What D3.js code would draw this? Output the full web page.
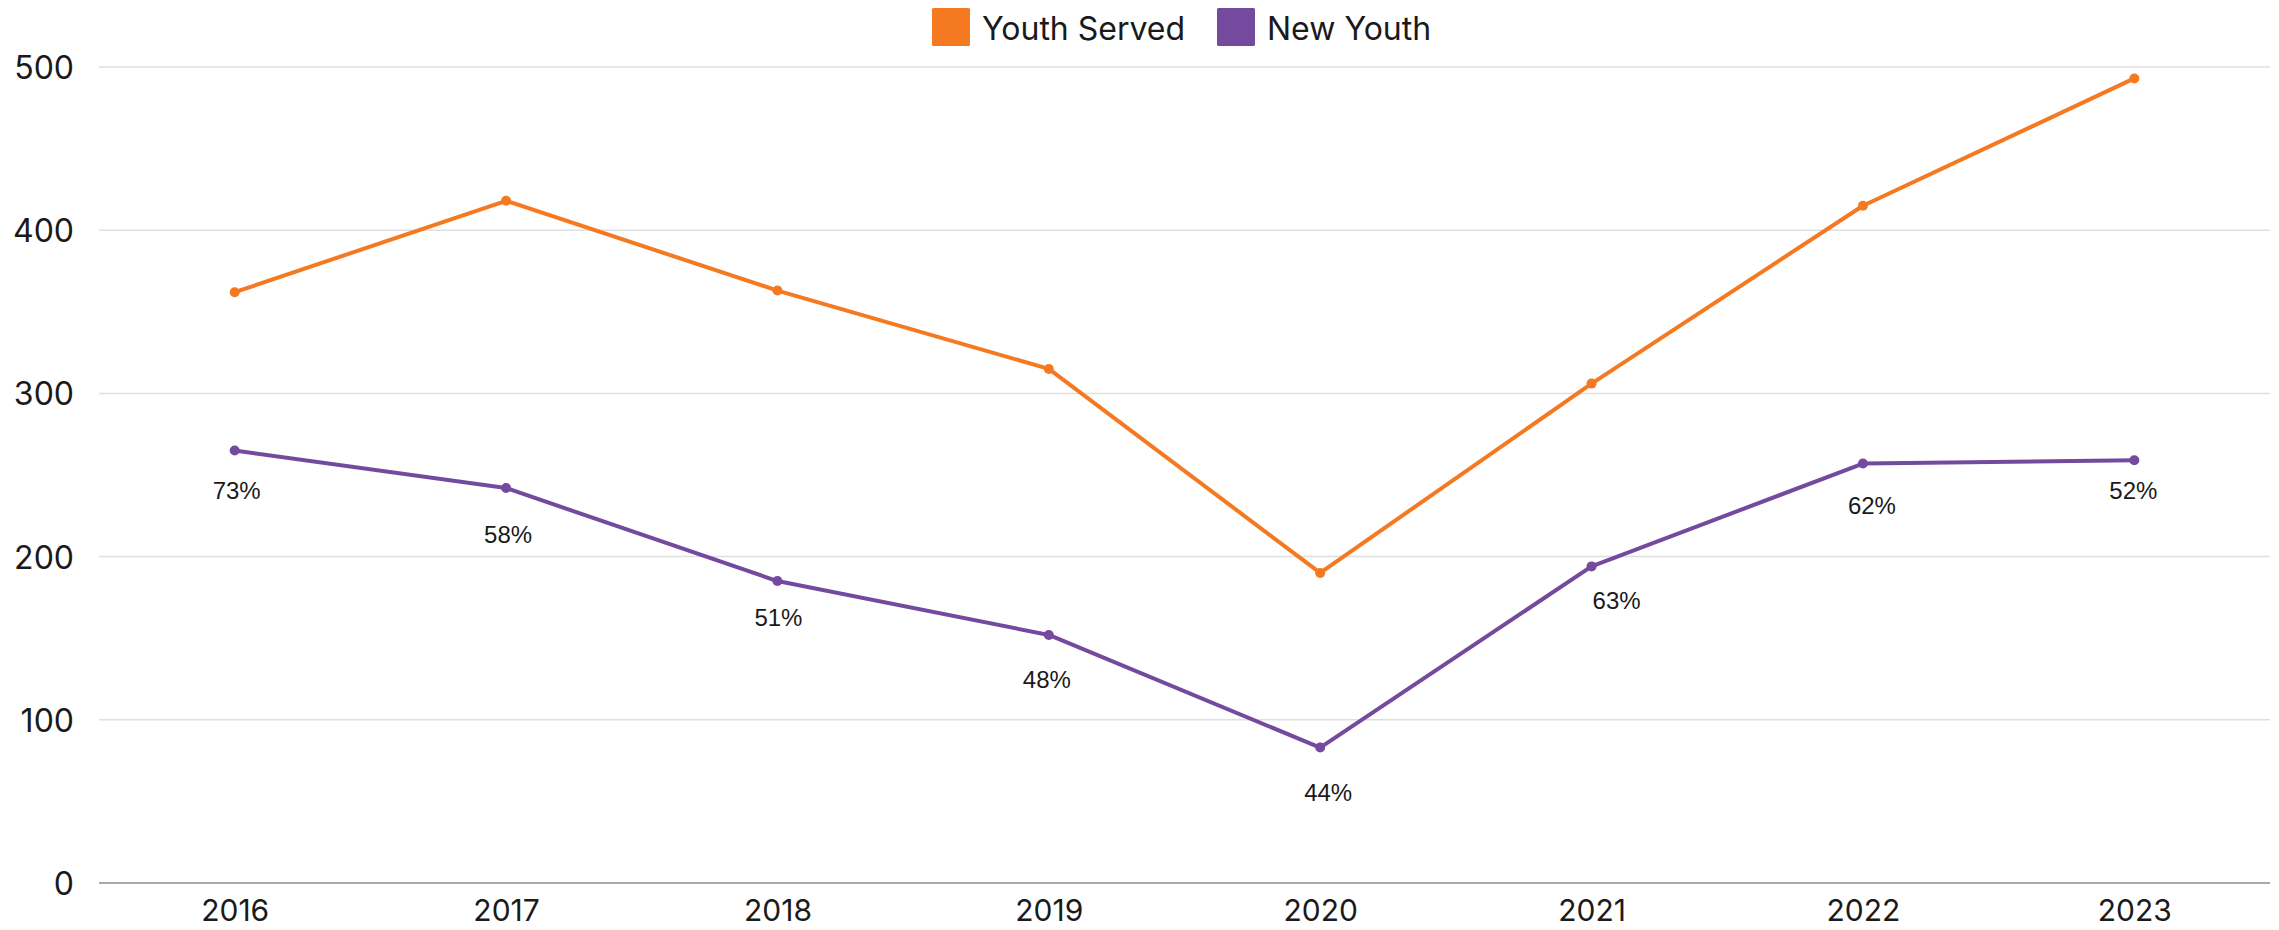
<!DOCTYPE html>
<html>
<head>
<meta charset="utf-8">
<script src="https://cdn.jsdelivr.net/npm/d3@7"></script>
<style>
  html, body { margin: 0; padding: 0; background: #ffffff; }
  svg { display: block; }
</style>
</head>
<body>
<svg id="chart" width="2279" height="930"></svg>
<script>
// ---- data ----
const years = ["2016", "2017", "2018", "2019", "2020", "2021", "2022", "2023"];
const youthServed = [362, 418, 363, 315, 190, 306, 415, 493];
const newYouth = [265, 242, 185, 152, 83, 194, 257, 259];
const newYouthPct = ["73%", "58%", "51%", "48%", "44%", "63%", "62%", "52%"];
const yTicks = [0, 100, 200, 300, 400, 500];
const seriesNames = ["Youth Served", "New Youth"];

// ---- layout / style ----
const plot = { left: 99, right: 2270, top: 67, bottom: 883 };
const colors = ["#f47920", "#744a9e"];
const axisFont = "Inter, 'Open Sans', sans-serif";
const labelFont = "'Liberation Sans', Arial, sans-serif";
// label placement nudges (pixels, relative to each point), as placed in the original
const labelNudgeX = [2, 2, 1, -2, 8, 25, 9, -1];
const labelNudgeY = [40, 47, 37, 45, 45, 34, 42, 30];

const svg = d3.select("#chart");

const x = d3.scalePoint().domain(years).range([plot.left, plot.right]).padding(0.5);
const y = d3.scaleLinear().domain([0, 500]).range([plot.bottom, plot.top]);

// gridlines
svg.append("g").selectAll("line").data(yTicks.filter(d => d !== 0)).join("line")
  .attr("x1", plot.left).attr("x2", plot.right)
  .attr("y1", d => y(d)).attr("y2", d => y(d))
  .attr("stroke", "#dfdfdf").attr("stroke-width", 1.5);

// y axis labels
const yAxis = d3.axisLeft(y).tickValues(yTicks).tickSize(0).tickPadding(0).tickFormat(d3.format("d"));
const gy = svg.append("g").attr("transform", `translate(${plot.left - 25},0)`).call(yAxis);
gy.select(".domain").remove();
gy.selectAll("text").attr("font-family", axisFont).attr("font-size", 32)
  .attr("fill", "#1a1a1a").attr("dy", "0.36em");

// x axis
const xAxis = d3.axisBottom(x).tickSize(0).tickPadding(0);
const gx = svg.append("g").attr("transform", `translate(0,${plot.bottom})`).call(xAxis);
gx.select(".domain").attr("stroke", "#8c8c8c").attr("stroke-width", 1.5)
  .attr("d", `M${plot.left},0H${plot.right}`);
gx.selectAll("text").attr("font-family", axisFont).attr("font-size", 30)
  .attr("fill", "#1a1a1a").attr("dy", null).attr("y", 38);

// lines
const line = d3.line().x((d, i) => x(years[i])).y(d => y(d));
[youthServed, newYouth].forEach((series, si) => {
  svg.append("path").datum(series)
    .attr("fill", "none").attr("stroke", colors[si])
    .attr("stroke-width", 4).attr("stroke-linejoin", "round")
    .attr("d", line);
  svg.append("g").selectAll("circle").data(series).join("circle")
    .attr("cx", (d, i) => x(years[i])).attr("cy", d => y(d))
    .attr("r", 5).attr("fill", colors[si]);
});

// percentage labels
svg.append("g").selectAll("text").data(newYouth).join("text")
  .attr("x", (d, i) => x(years[i]) + labelNudgeX[i])
  .attr("y", (d, i) => y(d) + labelNudgeY[i])
  .attr("dy", "0.35em")
  .attr("text-anchor", "middle")
  .attr("font-family", labelFont).attr("font-size", 24).attr("fill", "#1a1a1a")
  .text((d, i) => newYouthPct[i]);

// legend
const legend = svg.append("g");
const legendItems = [
  { name: seriesNames[0], color: colors[0], x: 932 },
  { name: seriesNames[1], color: colors[1], x: 1217 }
];
legendItems.forEach(it => {
  legend.append("rect").attr("x", it.x).attr("y", 8).attr("width", 38).attr("height", 38)
    .attr("fill", it.color).attr("rx", 1.5);
  legend.append("text").attr("x", it.x + 50).attr("y", 28).attr("dy", "0.36em")
    .attr("font-family", axisFont).attr("font-size", 32).attr("fill", "#1a1a1a")
    .text(it.name);
});
</script>
</body>
</html>
